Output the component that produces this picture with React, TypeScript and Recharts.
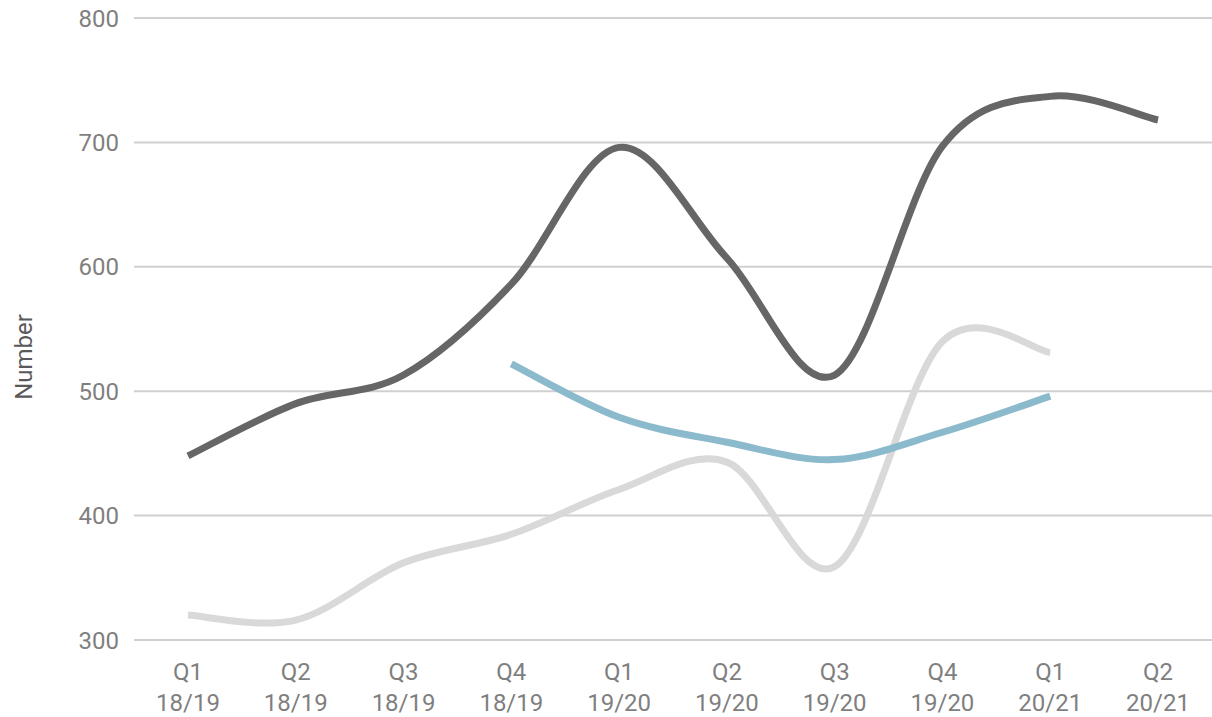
import React from 'react';
import { LineChart, Line, XAxis, YAxis, CartesianGrid } from 'recharts';

// Quarter labels: "Qn" on the first line, financial year on the second
const quarters = ['Q1', 'Q2', 'Q3', 'Q4', 'Q1', 'Q2', 'Q3', 'Q4', 'Q1', 'Q2'];
const years = ['18/19', '18/19', '18/19', '18/19', '19/20', '19/20', '19/20', '19/20', '20/21', '20/21'];

// Series values per quarter (null = no value for that quarter)
const totalSeries = [448, 490, 513, 586, 696, 607, 513, 697, 737, 718];
const lightSeries = [320, 316, 362, 385, 421, 443, 359, 540, 531, null];
const blueSeries = [null, null, null, 522, 479, 459, 445, 467, 496, null];

const yTicks = [300, 400, 500, 600, 700, 800];

const data = quarters.map((q, i) => ({
  label: `${q} ${years[i]}`,
  total: totalSeries[i],
  light: lightSeries[i],
  blue: blueSeries[i],
}));

const FONT = 'Roboto, "Noto Sans", sans-serif';

// Smooth curve through the points (Catmull-Rom as cubic Bezier segments)
const smoothCurve = (context: any) => {
  let pts: [number, number][] = [];
  return {
    areaStart() {},
    areaEnd() {},
    lineStart() {
      pts = [];
    },
    lineEnd() {
      if (!pts.length) return;
      context.moveTo(pts[0][0], pts[0][1]);
      for (let i = 0; i < pts.length - 1; i++) {
        const p0 = pts[Math.max(i - 1, 0)];
        const p1 = pts[i];
        const p2 = pts[i + 1];
        const p3 = pts[Math.min(i + 2, pts.length - 1)];
        context.bezierCurveTo(
          p1[0] + (p2[0] - p0[0]) / 6,
          p1[1] + (p2[1] - p0[1]) / 6,
          p2[0] - (p3[0] - p1[0]) / 6,
          p2[1] - (p3[1] - p1[1]) / 6,
          p2[0],
          p2[1]
        );
      }
    },
    point(x: number, y: number) {
      pts.push([+x, +y]);
    },
  };
};

const QuarterTick = (props: any) => {
  const { x, y, payload } = props;
  const [q, yr] = String(payload.value).split(' ');
  return (
    <g>
      <text x={x} y={y + 40} textAnchor="middle" fill="#7f7f7f" fontSize={24} fontFamily={FONT}>
        {q}
      </text>
      <text x={x} y={y + 71} textAnchor="middle" fill="#7f7f7f" fontSize={24} fontFamily={FONT}>
        {yr}
      </text>
    </g>
  );
};

const YLabel = (props: any) => {
  const { viewBox } = props;
  const cx = viewBox.x + 24;
  const cy = viewBox.y + viewBox.height / 2 + 28;
  return (
    <text
      x={cx}
      y={cy}
      transform={`rotate(-90, ${cx}, ${cy})`}
      textAnchor="middle"
      dominantBaseline="central"
      fill="#595959"
      fontSize={24}
      fontFamily={FONT}
    >
      Number
    </text>
  );
};

export default function App() {
  return (
    <div style={{ position: 'absolute', left: 0, top: 0, background: '#fff' }}>
      <LineChart
        width={1212}
        height={717}
        data={data}
        margin={{ top: 18, right: 0, left: 0, bottom: 0 }}
      >
        <CartesianGrid vertical={false} stroke="#d0d0d0" strokeWidth={2} />
        <XAxis
          dataKey="label"
          axisLine={false}
          tickLine={false}
          tickSize={0}
          tickMargin={0}
          interval={0}
          padding={{ left: 54, right: 54 }}
          tick={<QuarterTick />}
          height={77}
        />
        <YAxis
          domain={[300, 800]}
          ticks={yTicks}
          axisLine={false}
          tickLine={false}
          tickSize={0}
          tickMargin={15}
          width={134}
          tick={{ fill: '#7f7f7f', fontSize: 24, fontFamily: FONT }}
          label={<YLabel />}
        />
        <Line
          dataKey="light"
          type={smoothCurve as any}
          stroke="#d9d9d9"
          strokeWidth={7}
          dot={false}
          activeDot={false}
          isAnimationActive={false}
        />
        <Line
          dataKey="blue"
          type={smoothCurve as any}
          stroke="#8bbacc"
          strokeWidth={7}
          dot={false}
          activeDot={false}
          isAnimationActive={false}
        />
        <Line
          dataKey="total"
          type={smoothCurve as any}
          stroke="#666666"
          strokeWidth={7}
          dot={false}
          activeDot={false}
          isAnimationActive={false}
        />
      </LineChart>
    </div>
  );
}
